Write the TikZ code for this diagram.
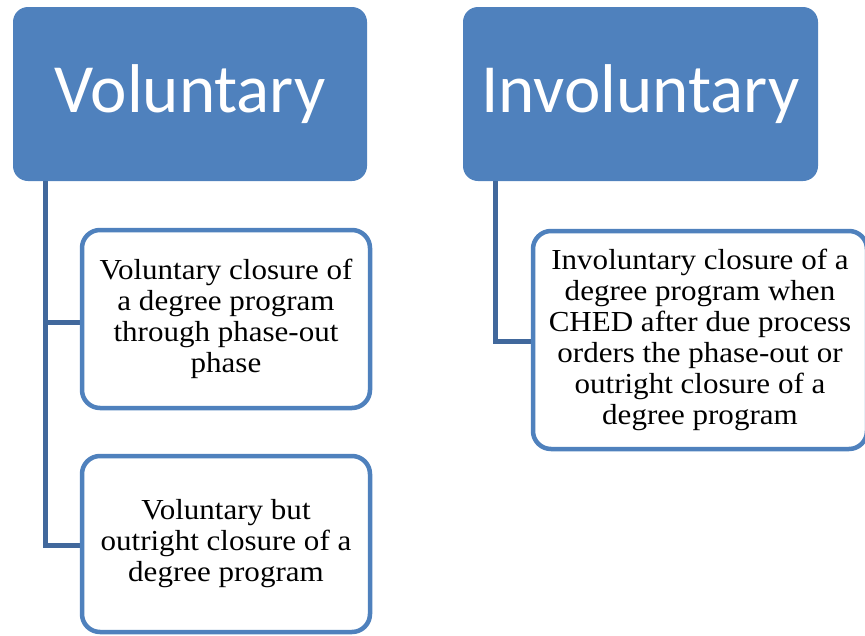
\documentclass[tikz,border=0pt]{standalone}
\usepackage{fontspec}
\setmainfont[FakeStretch=1.07]{Liberation Serif}
\newfontfamily\headfont{Carlito}
\definecolor{hdrblue}{HTML}{4F81BD}
\definecolor{connblue}{HTML}{41689C}
\begin{document}
\begin{tikzpicture}[x=1pt,y=-1pt,
  header/.style={draw=none,fill=hdrblue,rounded corners=15pt,inner sep=0pt,
    text=white,font=\headfont\fontsize{69}{72}\selectfont},
  child/.style={draw=hdrblue,line width=4.5pt,fill=white,rounded corners=18pt,inner sep=0pt,
    align=center,font=\fontsize{29}{31}\selectfont},
  conn/.style={draw=connblue,line width=5pt}]
\useasboundingbox (0,0) rectangle (865,635);
\node[header,minimum width=354pt,minimum height=174pt] (h1) at (190,94) {Voluntary};
\node[header,minimum width=355pt,minimum height=174pt] (h2) at (640.5,94) {Involuntary};
\draw[conn] ([xshift=33pt]h1.south west) |- (246,322) coordinate (j1);
\draw[conn] ([xshift=33pt]h1.south west) |- (246,545) coordinate (j2);
\draw[conn] ([xshift=33pt]h2.south west) |- (700,341) coordinate (j3);
\node[child,minimum width=288pt,minimum height=178pt] (c1) at (226,319)
  {Voluntary closure of\\a degree program\\through phase-out\\phase};
\node[child,minimum width=288pt,minimum height=176pt] (c2) at (226,544)
  {Voluntary but\\outright closure of a\\degree program};
\node[child,minimum width=334pt,minimum height=218pt] (r1) at (700,340)
  {Involuntary closure of a\\degree program when\\CHED after due process\\orders the phase-out or\\outright closure of a\\degree program};
\end{tikzpicture}
\end{document}
